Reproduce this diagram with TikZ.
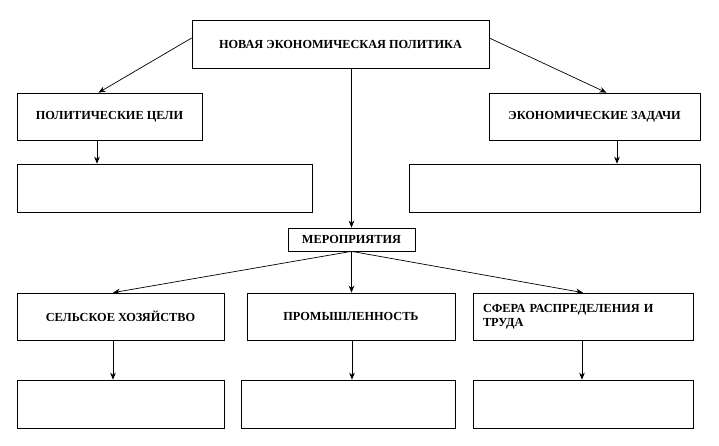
\documentclass[tikz,border=0pt]{standalone}
\usepackage{fontspec}
\setmainfont{Liberation Serif}
\usetikzlibrary{arrows.meta}
\tikzset{
  blk/.style={draw, line width=1pt, inner sep=0pt, font=\bfseries\fontsize{17.5}{20}\selectfont},
  arr/.style={line width=1pt, -{Stealth[length=10pt,width=8pt]}}
}
\begin{document}
\begin{tikzpicture}[x=0.05cm,y=-0.05cm]
  \useasboundingbox (0,0) rectangle (719,446);
  % top level
  \node[blk, minimum width=297*0.05cm, minimum height=48*0.05cm] (nep) at (340.5,44) {НОВАЯ ЭКОНОМИЧЕСКАЯ ПОЛИТИКА};
  \node[blk, minimum width=185*0.05cm, minimum height=47*0.05cm] (pol) at (109.5,116.5) {ПОЛИТИЧЕСКИЕ ЦЕЛИ};
  \node[blk, minimum width=211*0.05cm, minimum height=47*0.05cm] (eco) at (594.5,116.5) {ЭКОНОМИЧЕСКИЕ ЗАДАЧИ};
  \node[blk, minimum width=295*0.05cm, minimum height=48*0.05cm] (polE) at (164.5,188) {};
  \node[blk, minimum width=291*0.05cm, minimum height=48*0.05cm] (ecoE) at (554.5,188) {};
  \node[blk, minimum width=127*0.05cm, minimum height=23*0.05cm] (mer) at (351.5,239.5) {МЕРОПРИЯТИЯ};
  % second row
  \node[blk, minimum width=207*0.05cm, minimum height=47*0.05cm] (agr) at (120.5,316.5) {СЕЛЬСКОЕ ХОЗЯЙСТВО};
  \node[blk, minimum width=208*0.05cm, minimum height=47*0.05cm] (ind) at (351,316.5) {ПРОМЫШЛЕННОСТЬ};
  \node[blk, minimum width=220*0.05cm, minimum height=47*0.05cm, text width=200*0.05cm, align=left] (trd) at (583,316.5) {СФЕРА РАСПРЕДЕЛЕНИЯ И\\ТРУДА};
  \node[blk, minimum width=207*0.05cm, minimum height=48*0.05cm] (agrE) at (120.5,404) {};
  \node[blk, minimum width=214*0.05cm, minimum height=48*0.05cm] (indE) at (348,404) {};
  \node[blk, minimum width=220*0.05cm, minimum height=48*0.05cm] (trdE) at (583,404) {};
  % connectors
  \draw[arr] (nep.west) ++(0,-6) -- ([xshift=-11*0.05cm]pol.north);
  \draw[arr] (nep.east) ++(0,-6) -- ([xshift=12*0.05cm]eco.north);
  \draw[arr] (nep.south -| mer.north) -- (mer.north);
  \draw[arr] (pol.south -| 97,0) -- (polE.north -| 97,0);
  \draw[arr] (eco.south -| 617,0) -- (ecoE.north -| 617,0);
  \draw[arr] (mer.south) -- (agr.north -| 113,0);
  \draw[arr] (mer.south) -- (ind.north -| mer.south);
  \draw[arr] (mer.south) -- (trd.north);
  \draw[arr] (agr.south -| 113,0) -- (agrE.north -| 113,0);
  \draw[arr] (ind.south -| 352,0) -- (indE.north -| 352,0);
  \draw[arr] (trd.south -| 582,0) -- (trdE.north -| 582,0);
\end{tikzpicture}
\end{document}
